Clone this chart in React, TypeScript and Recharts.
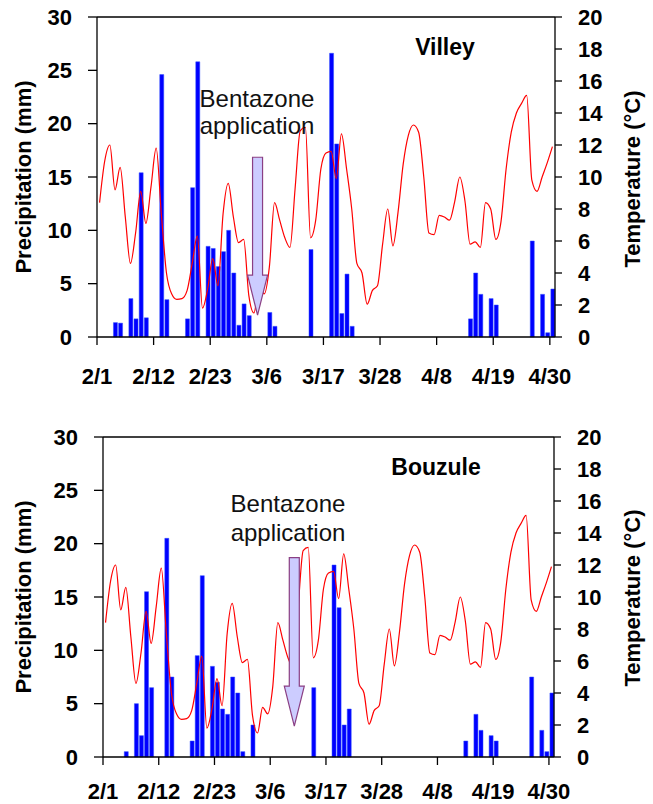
import React from "react";
import {
  ComposedChart,
  Bar,
  Line,
  XAxis,
  YAxis,
  ReferenceLine,
} from "recharts";

// day 0 = 2/1, one value per day up to 4/30 (day 88)
const dayTicks = [0, 11, 22, 33, 44, 55, 66, 77, 88];
const dayLabels = ["2/1", "2/12", "2/23", "3/6", "3/17", "3/28", "4/8", "4/19", "4/30"];
const rainTicks = [0, 5, 10, 15, 20, 25, 30];
const tempTicks = [0, 2, 4, 6, 8, 10, 12, 14, 16, 18, 20];

// daily mean air temperature (°C), same record for both sites
const temperature = [
  8.4, 11.0, 12.0, 9.2, 10.6, 7.5, 4.6, 6.5, 9.1, 7.1,
  9.4, 11.8, 7.7, 4.0, 2.7, 2.35, 2.4, 2.9, 4.6, 6.3,
  1.8, 3.0, 4.9, 3.2, 7.7, 9.6, 7.5, 5.9, 6.1, 2.6,
  1.5, 3.1, 2.7, 4.4, 8.4, 7.3, 6.2, 5.6, 9.3, 12.9,
  13.1, 6.2, 7.3, 10.5, 11.5, 11.6, 9.9, 12.7, 10.5, 8.0,
  4.6, 4.0, 2.05, 2.9, 3.2, 5.8, 8.0, 5.7, 7.8, 10.8,
  12.6, 13.25, 12.8, 10.0, 6.5, 6.4, 7.6, 7.5, 7.3, 8.45,
  10.0, 8.5, 5.8, 5.95, 5.6, 8.4, 8.0, 6.1, 7.2, 10.5,
  12.8, 14.0, 14.6, 15.1, 9.8, 9.1, 10.0, 10.9, 11.9,
];

const villeyDays = [
  3, 4, 6, 7, 8, 9, 12, 13, 17, 18, 19, 21, 22, 23, 24, 25, 26, 27, 28, 29,
  33, 34, 41, 45, 46, 47, 48, 49, 72, 73, 74, 76, 77, 84, 86, 87, 88,
];
const villeyRain = [
  1.35, 1.3, 3.6, 1.7, 15.4, 1.8, 24.6, 3.5, 1.7, 14.0, 25.8, 8.5, 8.3, 6.6, 8.0, 10.0, 6.0, 1.1, 3.1, 2.0,
  2.3, 1.0, 8.2, 26.6, 18.1, 2.2, 5.9, 1.0, 1.7, 6.0, 4.0, 3.6, 3.0, 9.0, 4.0, 0.4, 4.5,
];

const bouzuleDays = [
  4, 6, 7, 8, 9, 12, 13, 17, 18, 19, 21, 22, 23, 24, 25, 26, 27, 29,
  41, 45, 46, 47, 48, 71, 73, 74, 76, 77, 84, 86, 87, 88,
];
const bouzuleRain = [
  0.5, 5.0, 2.0, 15.5, 6.5, 20.5, 7.5, 1.5, 9.5, 17.0, 8.5, 7.0, 4.5, 4.0, 7.5, 6.0, 0.5, 3.0,
  6.5, 18.0, 14.0, 3.0, 4.5, 1.5, 4.0, 2.5, 2.0, 1.5, 7.5, 2.5, 0.5, 6.0,
];

const font = '"Liberation Sans", Arial, Helvetica, sans-serif';
const tickStyle = { fontFamily: font, fontSize: 22, fontWeight: 700, fill: "#000" };

function buildRows(days: number[], rain: number[]) {
  return temperature.map((t, i) => {
    const k = days.indexOf(i);
    return { day: i, temp: t, rain: k >= 0 ? rain[k] : null };
  });
}

const arrowShape = (props: any) => {
  const { x1, y1, y2 } = props;
  const top = Math.min(y1, y2);
  const tip = Math.max(y1, y2);
  const head = 40;
  const d = `M${x1 - 5},${top} L${x1 + 5},${top} L${x1 + 5},${tip - head} L${x1 + 10},${tip - head} L${x1},${tip} L${x1 - 10},${tip - head} L${x1 - 5},${tip - head} Z`;
  return <path d={d} fill="#ccccff" stroke="#8a3f84" strokeWidth={1.2} />;
};

function Panel(props: {
  rows: any[];
  top: number;
  height: number;
  leftW: number;
  rightW: number;
  xHeight: number;
  bottom: number;
  xMargin: number;
  arrowDay: number;
  arrowFrom: number;
  arrowTo: number;
}) {
  const p = props;
  return (
    <div style={{ position: "absolute", left: 0, top: p.top }}>
      <ComposedChart
        width={653}
        height={p.height}
        data={p.rows}
        margin={{ top: 17, right: 0, bottom: p.bottom, left: 0 }}
      >
        <XAxis
          type="number"
          dataKey={(r: any) => r.day + 0.5}
          domain={[0, 89]}
          ticks={dayTicks}
          interval={0}
          tickFormatter={(v: number) => dayLabels[dayTicks.indexOf(v)]}
          height={p.xHeight}
          tickSize={8}
          tickMargin={p.xMargin}
          stroke="#000"
          strokeWidth={1.3}
          tick={tickStyle}
        />
        <YAxis
          yAxisId="rain"
          orientation="left"
          width={p.leftW}
          domain={[0, 30]}
          ticks={rainTicks}
          interval={0}
          tickSize={9}
          tickMargin={16}
          stroke="#000"
          strokeWidth={1.3}
          tick={tickStyle}
        />
        <YAxis
          yAxisId="temp"
          orientation="right"
          width={p.rightW}
          domain={[0, 20]}
          ticks={tempTicks}
          interval={0}
          tickSize={7}
          tickMargin={16}
          stroke="#000"
          strokeWidth={1.3}
          tick={tickStyle}
        />
        <ReferenceLine yAxisId="rain" y={30} stroke="#000" strokeWidth={1.3} />
        <Bar
          dataKey="rain"
          yAxisId="rain"
          barSize={4}
          fill="#0000ff"
          stroke="#3050ff"
          strokeWidth={0.5}
          isAnimationActive={false}
        />
        <Line
          dataKey="temp"
          yAxisId="temp"
          type="monotone"
          stroke="#ff0000"
          strokeWidth={1.2}
          dot={false}
          isAnimationActive={false}
        />
        <ReferenceLine
          yAxisId="rain"
          segment={[
            { x: p.arrowDay, y: p.arrowFrom },
            { x: p.arrowDay, y: p.arrowTo },
          ]}
          shape={arrowShape}
        />
      </ComposedChart>
    </div>
  );
}

export default function App() {
  const bold = { fontFamily: font, fontWeight: 700, fill: "#000" } as const;
  const plain = { fontFamily: font, fontSize: 24, fill: "#111" } as const;
  return (
    <div
      style={{
        position: "absolute",
        left: 0,
        top: 0,
        width: 653,
        height: 804,
        background: "#fff",
      }}
    >
      <Panel
        rows={buildRows(villeyDays, villeyRain)}
        top={0}
        height={400}
        leftW={97}
        rightW={98}
        xHeight={46}
        bottom={17}
        xMargin={23}
        arrowDay={31.2}
        arrowFrom={16.85}
        arrowTo={2.05}
      />
      <Panel
        rows={buildRows(bouzuleDays, bouzuleRain)}
        top={420}
        height={384}
        leftW={103}
        rightW={99}
        xHeight={40}
        bottom={7}
        xMargin={18}
        arrowDay={37.75}
        arrowFrom={18.7}
        arrowTo={2.9}
      />
      <svg
        width={653}
        height={804}
        style={{ position: "absolute", left: 0, top: 0, pointerEvents: "none" }}
      >
        <text x={31} y={177} transform="rotate(-90 31 177)" textAnchor="middle" fontSize={22} {...bold}>
          Precipitation (mm)
        </text>
        <text x={640} y={179} transform="rotate(-90 640 179)" textAnchor="middle" fontSize={22} {...bold}>
          Temperature (°C)
        </text>
        <text x={31} y={597} transform="rotate(-90 31 597)" textAnchor="middle" fontSize={22} {...bold}>
          Precipitation (mm)
        </text>
        <text x={640} y={598} transform="rotate(-90 640 598)" textAnchor="middle" fontSize={22} {...bold}>
          Temperature (°C)
        </text>
        <text x={445} y={55} textAnchor="middle" fontSize={23} {...bold}>
          Villey
        </text>
        <text x={436} y={475} textAnchor="middle" fontSize={23} {...bold}>
          Bouzule
        </text>
        <text x={257} y={107} textAnchor="middle" {...plain}>
          Bentazone
        </text>
        <text x={257} y={134} textAnchor="middle" {...plain}>
          application
        </text>
        <text x={288} y={512} textAnchor="middle" {...plain}>
          Bentazone
        </text>
        <text x={288} y={541} textAnchor="middle" {...plain}>
          application
        </text>
      </svg>
    </div>
  );
}
